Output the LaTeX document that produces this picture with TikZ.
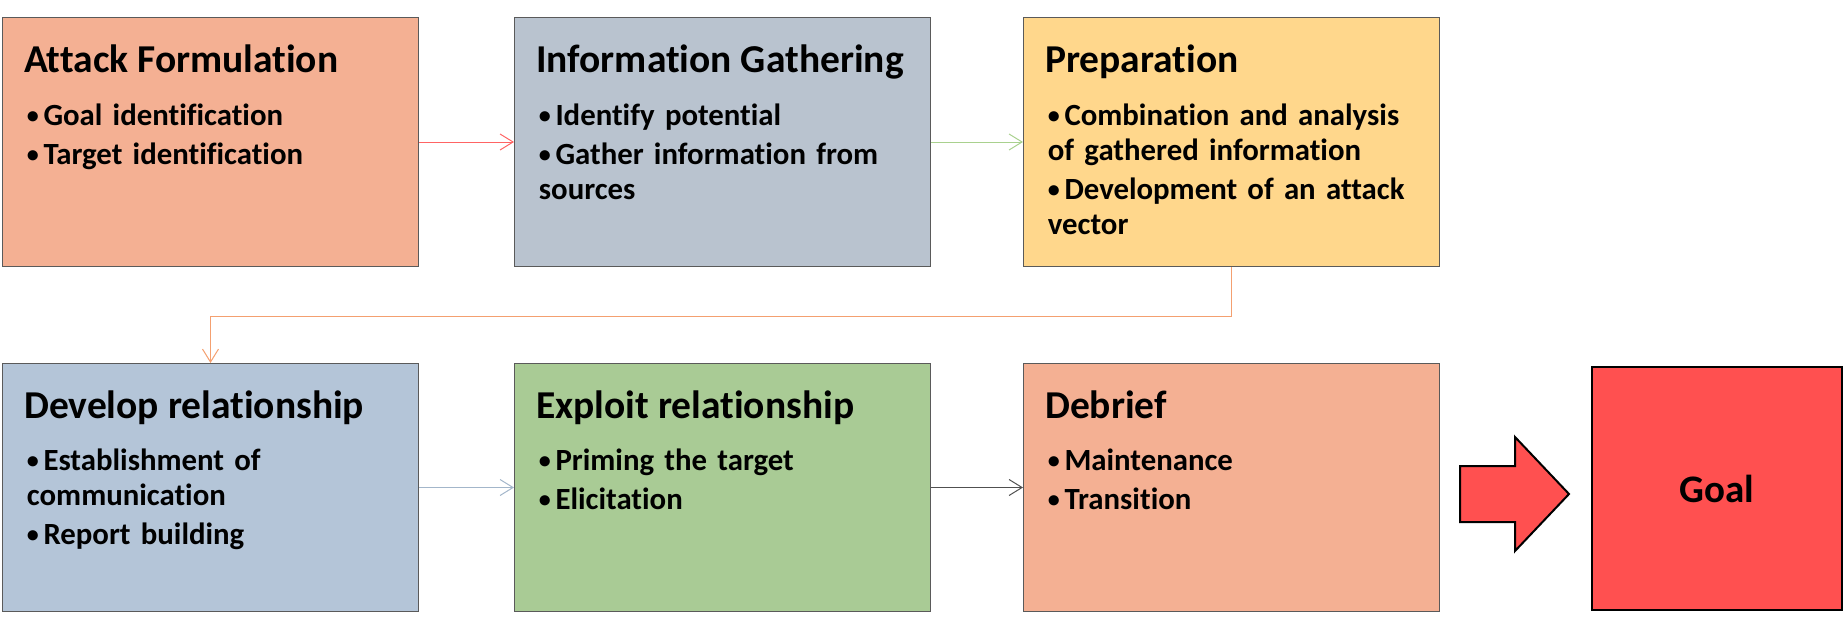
\documentclass[tikz,border=0pt]{standalone}
\usepackage{fontspec}
\setmainfont{Carlito}[Ligatures=NoCommon]
\usetikzlibrary{arrows.meta}

\definecolor{boxline}{HTML}{5A5A5A}
\definecolor{salmon}{HTML}{F4B093}
\definecolor{steel}{HTML}{B9C3CF}
\definecolor{steellight}{HTML}{B4C5D8}
\definecolor{sand}{HTML}{FFD78C}
\definecolor{leaf}{HTML}{A9CB95}
\definecolor{goalred}{HTML}{FF5050}
\definecolor{linkred}{HTML}{FF6464}
\definecolor{linkgreen}{HTML}{A9D18E}
\definecolor{linkorange}{HTML}{F4A070}
\definecolor{linkblue}{HTML}{A3B6CA}
\definecolor{linkgrey}{HTML}{505050}

% one bullet item with hanging indent; items are separated by \par
\newcommand\itm[1]{\setlength\parskip{4pt}\hangindent=16.6pt\hangafter=1\noindent
  \makebox[16.6pt][l]{\raisebox{1.2pt}{\fontsize{24}{24}\selectfont\textbullet}}#1}

\tikzset{
  stage/.style={draw=boxline, line width=1pt, minimum width=416pt, minimum height=249pt,
    inner sep=0pt, anchor=north west},
  ttl/.style={anchor=base west, inner sep=0pt, font=\bfseries\fontsize{39.5}{44}\selectfont},
  body/.style={anchor=base west, inner sep=0pt, text width=390pt, align=left,
    font=\bfseries\fontsize{30.8}{35}\selectfont},
  flow/.style={line width=1pt, -{Straight Barb[length=13pt,width=16pt]}},
}

\begin{document}
\begin{tikzpicture}[x=1pt, y=-1pt]
\useasboundingbox (0,0) rectangle (1843,629);

% ---- top row
\node[stage, fill=salmon] (b1) at (2,17) {};
\node[stage, fill=steel]  (b2) at (514,17) {};
\node[stage, fill=sand]   (b3) at (1023,17) {};
% ---- bottom row
\node[stage, fill=steellight, minimum height=248pt] (b4) at (2,363) {};
\node[stage, fill=leaf, minimum height=248pt]       (b5) at (514,363) {};
\node[stage, fill=salmon, minimum height=248pt]     (b6) at (1023,363) {};

% ---- titles and bullet lists
\node[ttl] (t1) at ([shift={(22,55.7)}]b1.north west) {Attack Formulation};
\node[body] (l1) at ([shift={(24.7,108)}]b1.north west)
  {\itm{Goal identification}\par\itm{Target identification}};

\node[ttl] (t2) at ([shift={(22,55.7)}]b2.north west) {Information Gathering};
\node[body] (l2) at ([shift={(24.7,108)}]b2.north west)
  {\itm{Identify potential}\par\itm{Gather information from\\ sources}};

\node[ttl] (t3) at ([shift={(22,55.7)}]b3.north west) {Preparation};
\node[body] (l3) at ([shift={(24.7,108)}]b3.north west)
  {\itm{Combination and analysis\\ of gathered information}\par\itm{Development of an attack\\ vector}};

\node[ttl] (t4) at ([shift={(22,55.7)}]b4.north west) {Develop relationship};
\node[body] (l4) at ([shift={(24.7,107)}]b4.north west)
  {\itm{Establishment of\\ communication}\par\itm{Report building}};

\node[ttl] (t5) at ([shift={(22,55.7)}]b5.north west) {Exploit relationship};
\node[body] (l5) at ([shift={(24.7,107)}]b5.north west)
  {\itm{Priming the target}\par\itm{Elicitation}};

\node[ttl] (t6) at ([shift={(22,55.7)}]b6.north west) {Debrief};
\node[body] (l6) at ([shift={(24.7,107)}]b6.north west)
  {\itm{Maintenance}\par\itm{Transition}};

% ---- goal
\node[draw=black, line width=2pt, fill=goalred, minimum width=250pt, minimum height=243pt,
  inner sep=0pt, anchor=north west, font=\bfseries\fontsize{39}{44}\selectfont]
  (goal) at (1591,366) {Goal};

% ---- block arrow pointing at the goal
\draw[line width=2pt, fill=goalred, line join=miter]
  (1460,466) -- (1515,466) -- (1515,437) -- (1569,494) -- (1515,551) -- (1515,522) -- (1460,522) -- cycle;

% ---- connectors
\draw[flow, linkred]   (b1.east) -- (b2.west);
\draw[flow, linkgreen] (b2.east) -- (b3.west);
\draw[flow, linkorange] (b3.south) -- ++(0,49) -| (b4.north);
\draw[flow, linkblue]  (b4.east) -- (b5.west);
\draw[flow, linkgrey]  (b5.east) -- (b6.west);
\end{tikzpicture}
\end{document}
